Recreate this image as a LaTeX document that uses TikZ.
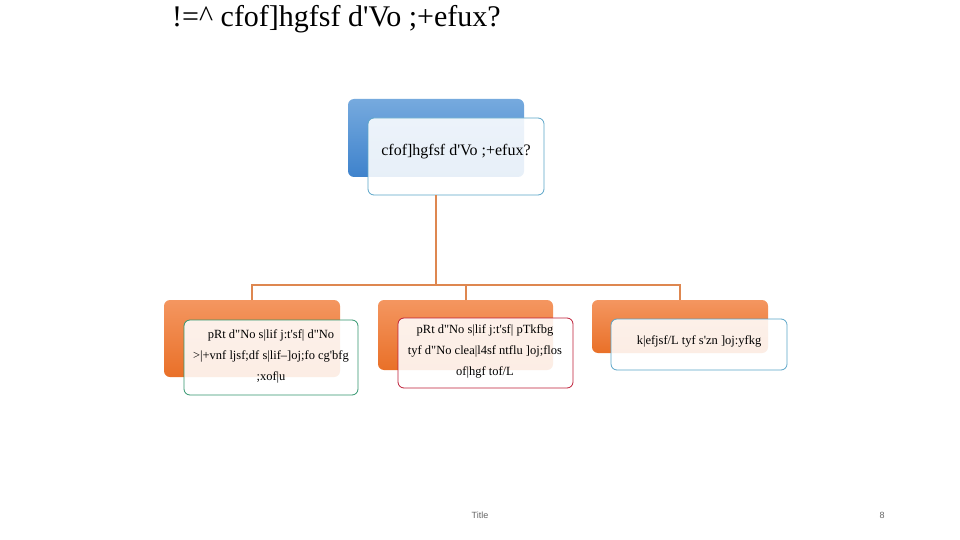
\documentclass[tikz,border=0pt]{standalone}
\usepackage{fontspec}
\setmainfont{Liberation Serif}[Ligatures=TeXOff]
\newfontfamily\footfont{Liberation Sans}
\begin{document}
\begin{tikzpicture}[x=1pt,y=-1pt,
  frontbox/.style={rounded corners=6pt,fill=white,fill opacity=0.88,line width=0.8pt},
  conn/.style={draw=connc,line width=1.6pt},
  boxtext/.style={font=\fontsize{12.5}{21}\selectfont,align=center,text=black}]
\definecolor{bluetop}{RGB}{118,170,222}
\definecolor{bluebot}{RGB}{62,130,204}
\definecolor{orangetop}{RGB}{244,150,96}
\definecolor{orangebot}{RGB}{233,112,40}
\definecolor{tealb}{RGB}{90,165,200}
\definecolor{greenb}{RGB}{50,150,110}
\definecolor{redb}{RGB}{190,30,55}
\definecolor{connc}{RGB}{222,135,80}
\useasboundingbox (0,0) rectangle (960,540);
\fill[white] (0,0) rectangle (960,540);
% title
\node[anchor=west,font=\fontsize{30}{32}\selectfont,inner sep=0pt] (title) at (172,19) {!=\^{} cfof]hgfsf d'Vo ;+efux?};
% back boxes
\shade[rounded corners=6pt,top color=bluetop,bottom color=bluebot] (348,99) rectangle (524,177);
\shade[rounded corners=6pt,top color=orangetop,bottom color=orangebot] (164,300) rectangle (340,377);
\shade[rounded corners=6pt,top color=orangetop,bottom color=orangebot] (378,300) rectangle (553,370);
\shade[rounded corners=6pt,top color=orangetop,bottom color=orangebot] (592,300) rectangle (768,353);
% front boxes
\draw[frontbox,draw=tealb] (368,118) rectangle (544,195);
\node[boxtext,font=\fontsize{16}{18}\selectfont] (root) at (456,152) {cfof]hgfsf d'Vo ;+efux?};
\coordinate (rootb) at (436,195);
\draw[frontbox,draw=greenb] (184,320) rectangle (358,395);
\node[boxtext] (c1) at (271,356) {pRt d"No s|lif j:t'sf| d"No\\>|+vnf ljsf;df s|lif–]oj;fo cg'bfg\\;xof|u};
\draw[frontbox,draw=redb] (398,318) rectangle (573,388);
\node[boxtext] (c2) at (485,351) {pRt d"No s|lif j:t'sf| pTkfbg\\tyf d"No clea|l4sf ntflu ]oj;flos\\of|hgf tof/L};
\draw[frontbox,draw=tealb] (611,319) rectangle (787,370);
\node[boxtext] (c3) at (699,341) {k|efjsf/L tyf s'zn ]oj:yfkg};
% connectors
\coordinate (j) at (436,285);
\coordinate (t1) at (252,300);
\coordinate (t2) at (466,300);
\coordinate (t3) at (680,300);
\draw[conn] (rootb) -- (j);
\draw[conn] (t1) |- (j) -| (t3);
\draw[conn] (t2) -- (t2 |- j);
% footer
\node[font=\footfont\fontsize{9}{10}\selectfont,text=gray!80!black] (foot) at (480,515) {Title};
\node[font=\footfont\fontsize{9}{10}\selectfont,text=gray!80!black] (pg) at (882,515) {8};
\end{tikzpicture}
\end{document}
